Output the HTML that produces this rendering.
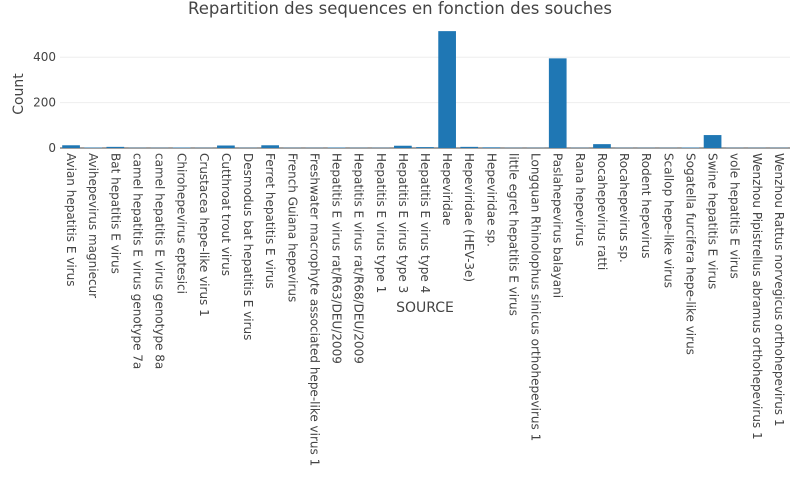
<!DOCTYPE html>
<html><head><meta charset="utf-8"><style>
html,body{margin:0;padding:0;background:#fff;width:800px;height:494px;overflow:hidden}
svg text{font-family:"DejaVu Sans","Liberation Sans",sans-serif;fill:#444}
</style></head><body>
<svg id="chart" width="800" height="494" xmlns="http://www.w3.org/2000/svg">
<text x="400" y="14" text-anchor="middle" font-size="16.5">Repartition des sequences en fonction des souches</text>
<g id="grid"></g>
<g id="bars"></g>
<g id="yticks"></g>
<g id="xticks"></g>
<text transform="translate(23,94) rotate(-90)" text-anchor="middle" font-size="14">Count</text>
<text x="425" y="312" text-anchor="middle" font-size="14">SOURCE</text>
</svg>
<script>
const categories = ["Avian hepatitis E virus","Avihepevirus magniecur","Bat hepatitis E virus","camel hepatitis E virus genotype 7a","camel hepatitis E virus genotype 8a","Chirohepevirus eptesici","Crustacea hepe-like virus 1","Cutthroat trout virus","Desmodus bat hepatitis E virus","Ferret hepatitis E virus","French Guiana hepevirus","Freshwater macrophyte associated hepe-like virus 1","Hepatitis E virus rat/R63/DEU/2009","Hepatitis E virus rat/R68/DEU/2009","Hepatitis E virus type 1","Hepatitis E virus type 3","Hepatitis E virus type 4","Hepeviridae","Hepeviridae (HEV-3e)","Hepeviridae sp.","little egret hepatitis E virus","Longquan Rhinolophus sinicus orthohepevirus 1","Paslahepevirus balayani","Rana hepevirus","Rocahepevirus ratti","Rocahepevirus sp.","Rodent hepevirus","Scallop hepe-like virus","Sogatella furcifera hepe-like virus","Swine hepatitis E virus","vole hepatitis E virus","Wenzhou Pipistrellus abramus orthohepevirus 1","Wenzhou Rattus norvegicus orthohepevirus 1"];
const counts = [12,2,5,1,1,2,1,11,1,12,1,1,2,1,1,10,4,515,5,3,1,1,395,1,17,1,1,1,2,57,1,1,1];
const yTickValues = [0,200,400];
const yTickLabels = ["0","200","400"];

const NS="http://www.w3.org/2000/svg";
const L=60,R=790,T=25,B=148,yMax=542;
const slot=(R-L)/categories.length;
const xPos=i=>L+slot*(i+0.5);
const yPos=v=>B-(v/yMax)*(B-T);
function mk(tag,attrs,parent){const e=document.createElementNS(NS,tag);for(const k in attrs)e.setAttribute(k,attrs[k]);parent.appendChild(e);return e;}
const grid=document.getElementById('grid'),bars=document.getElementById('bars'),yt=document.getElementById('yticks'),xt=document.getElementById('xticks');
yTickValues.forEach((v,i)=>{
  const ln=mk('line',{x1:L,x2:R,y1:yPos(v),y2:yPos(v),stroke:v===0?'#444':'#eee','stroke-width':1},grid);
  
  
  const t=mk('text',{x:L-4,y:yPos(v)+4,'text-anchor':'end','font-size':12},yt);
  t.textContent=yTickLabels[i];
  
  
});
categories.forEach((c,i)=>{
  const w=slot*0.8;
  const r=mk('rect',{x:xPos(i)-w/2,y:yPos(counts[i]),width:w,height:B-yPos(counts[i]),fill:'#1f77b4'},bars);
  
  
  const t=mk('text',{'font-size':12,transform:`translate(${xPos(i)-4},${B+5}) rotate(90)`},xt);
  t.textContent=c;
  
  
});
</script>
</body></html>
